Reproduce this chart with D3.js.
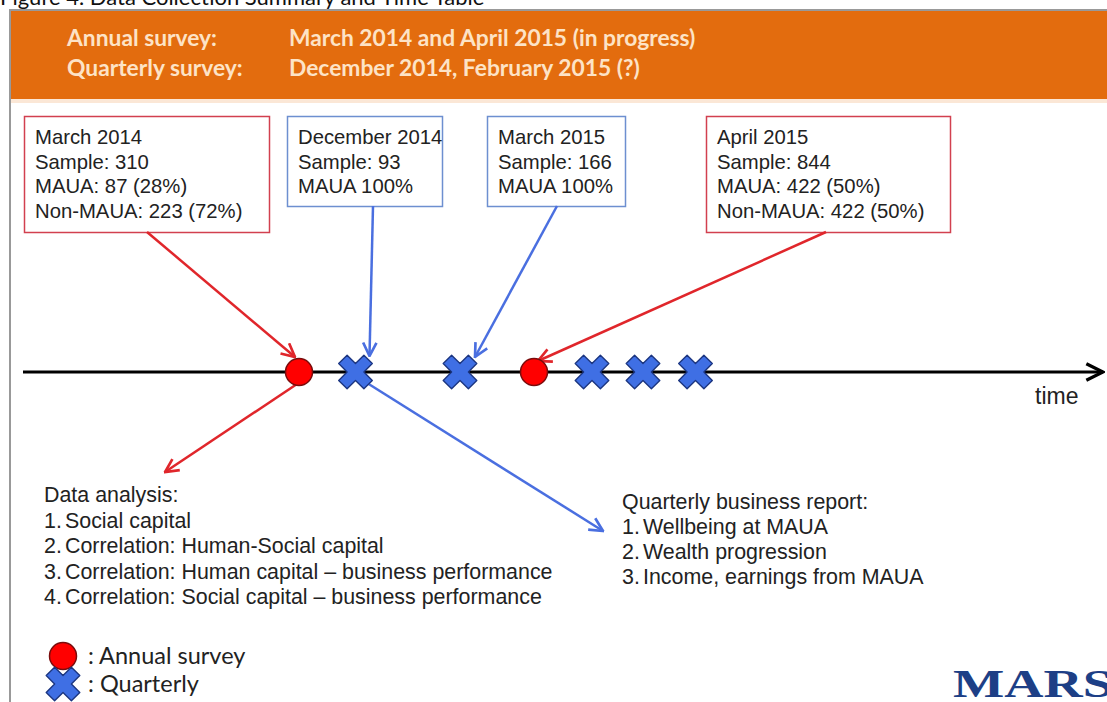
<!DOCTYPE html>
<html>
<head>
<meta charset="utf-8">
<script src="https://cdn.jsdelivr.net/npm/d3@7"></script>
<style>
  body { margin: 0; background: #fff; }
  svg { display: block; }
</style>
</head>
<body>
<div id="chart"></div>
<script>
// Header rows
const headerLabels = ["Annual survey:", "Quarterly survey:"];
const headerValues = ["March 2014 and April 2015 (in progress)", "December 2014, February 2015 (?)"];

// Survey rounds along the time line (position in arbitrary time units)
const surveyTypes = ["annual", "quarterly", "quarterly", "annual", "quarterly", "quarterly", "quarterly"];
const surveyPos = [5.52, 6.65, 8.74, 10.22, 11.38, 12.4, 13.45];

// Callout boxes: which round they point to and their text
const boxTarget = [0, 1, 2, 3];
const boxType = ["annual", "quarterly", "quarterly", "annual"];
const boxLines = [
  ["March 2014", "Sample: 310", "MAUA: 87 (28%)", "Non-MAUA: 223 (72%)"],
  ["December 2014", "Sample: 93", "MAUA 100%"],
  ["March 2015", "Sample: 166", "MAUA 100%"],
  ["April 2015", "Sample: 844", "MAUA: 422 (50%)", "Non-MAUA: 422 (50%)"]
];

// Outputs below the time line
const analysisTitle = "Data analysis:";
const analysisItems = ["Social capital", "Correlation: Human-Social capital",
  "Correlation: Human capital \u2013 business performance",
  "Correlation: Social capital \u2013 business performance"];
const reportTitle = "Quarterly business report:";
const reportItems = ["Wellbeing at MAUA", "Wealth progression", "Income, earnings from MAUA"];

const legendLabels = [": Annual survey", ": Quarterly"];

const width = 1107, height = 702;
const red = "#e0262b", blue = "#4a6fe0";

const svg = d3.select("#chart").append("svg")
  .attr("width", width)
  .attr("height", height)
  .style("font-family", "'Liberation Sans', Arial, sans-serif");

const defs = svg.append("defs");
function arrowMarker(id, color, size) {
  defs.append("marker")
    .attr("id", id)
    .attr("viewBox", "0 0 12 12")
    .attr("refX", 11).attr("refY", 6)
    .attr("markerWidth", size).attr("markerHeight", size)
    .attr("markerUnits", "userSpaceOnUse")
    .attr("orient", "auto")
    .append("path")
    .attr("d", "M1,1 L11,6 L1,11")
    .attr("fill", "none")
    .attr("stroke", color)
    .attr("stroke-width", 2);
}
arrowMarker("arrRed", red, 16);
arrowMarker("arrBlue", blue, 16);
arrowMarker("arrBlack", "#000", 20);

// clipped figure caption at the very top
svg.append("text")
  .attr("x", 0).attr("y", 5)
  .style("font-family", "Lato, 'Open Sans', sans-serif")
  .style("font-size", "22px")
  .attr("fill", "#111")
  .text("Figure 4. Data Collection Summary and Time Table");

// slide frame
svg.append("rect")
  .attr("x", 10).attr("y", 10)
  .attr("width", width).attr("height", height)
  .attr("fill", "#fff")
  .attr("stroke", "#999").attr("stroke-width", 2);

// orange header band
svg.append("rect")
  .attr("x", 11).attr("y", 11)
  .attr("width", width - 11).attr("height", 88)
  .attr("fill", "#e36c0e");
svg.append("rect")
  .attr("x", 11).attr("y", 99)
  .attr("width", width - 11).attr("height", 4)
  .attr("fill", "#fbe7d6");

const header = svg.append("g")
  .style("font-family", "Lato, 'Open Sans', sans-serif")
  .style("font-weight", "bold")
  .style("font-size", "22.8px")
  .attr("fill", "#fde3c6");
header.selectAll(".hl").data(headerLabels).join("text")
  .attr("x", 67).attr("y", (d, i) => 46 + i * 30)
  .text(d => d);
header.selectAll(".hv").data(headerValues).join("text")
  .attr("x", 289).attr("y", (d, i) => 46 + i * 30)
  .text(d => d);

// time scale
const x = d3.scaleLinear().domain([0, 21.6]).range([23, 1103]);
const lineY = 372;

// callout boxes (layout)
const boxGeom = [
  { x: 24, y: 116, w: 245, h: 116, ax: 147 },
  { x: 287, y: 116, w: 155, h: 90, ax: 373 },
  { x: 487, y: 116, w: 138, h: 90, ax: 557 },
  { x: 706, y: 116, w: 244, h: 116, ax: 826 }
];
const tipOffset = [[-4, -15], [14, -16], [15, -15], [4, -11]];

const boxes = svg.append("g").selectAll("g").data(boxLines).join("g");
boxes.append("rect")
  .attr("x", (d, i) => boxGeom[i].x + 0.5)
  .attr("y", (d, i) => boxGeom[i].y + 0.5)
  .attr("width", (d, i) => boxGeom[i].w)
  .attr("height", (d, i) => boxGeom[i].h)
  .attr("fill", "#fff")
  .attr("stroke", (d, i) => boxType[i] === "annual" ? "#d2404f" : "#6d8fd0")
  .attr("stroke-width", 1.5);
boxes.each(function(lines, i) {
  d3.select(this).selectAll("text").data(lines).join("text")
    .attr("x", boxGeom[i].x + 11)
    .attr("y", (d, j) => boxGeom[i].y + 28 + j * 24.5)
    .style("font-size", "20.3px")
    .attr("fill", "#222")
    .text(d => d);
});

// arrows from boxes to the survey rounds
svg.append("g").selectAll("line").data(boxTarget).join("line")
  .attr("x1", (d, i) => boxGeom[i].ax)
  .attr("y1", (d, i) => boxGeom[i].y + boxGeom[i].h)
  .attr("x2", (d, i) => x(surveyPos[d]) + tipOffset[i][0])
  .attr("y2", (d, i) => lineY + tipOffset[i][1])
  .attr("stroke", (d, i) => boxType[i] === "annual" ? red : blue)
  .attr("stroke-width", 2.5)
  .attr("marker-end", (d, i) => boxType[i] === "annual" ? "url(#arrRed)" : "url(#arrBlue)");

// arrows from the first rounds down to the outputs
svg.append("line")
  .attr("x1", x(surveyPos[0]) - 2).attr("y1", lineY + 12)
  .attr("x2", 165).attr("y2", 472)
  .attr("stroke", red).attr("stroke-width", 2.5)
  .attr("marker-end", "url(#arrRed)");
svg.append("line")
  .attr("x1", x(surveyPos[1]) + 10).attr("y1", lineY + 10)
  .attr("x2", 603).attr("y2", 531)
  .attr("stroke", blue).attr("stroke-width", 2.5)
  .attr("marker-end", "url(#arrBlue)");

// time line
svg.append("line")
  .attr("x1", x(0)).attr("y1", lineY)
  .attr("x2", x(21.6)).attr("y2", lineY)
  .attr("stroke", "#000").attr("stroke-width", 3)
  .attr("marker-end", "url(#arrBlack)");
svg.append("text")
  .attr("x", 1035).attr("y", 404)
  .style("font-size", "23px")
  .attr("fill", "#222")
  .text("time");

// markers
const crossPath = d3.symbol(d3.symbolCross, 640)();
function drawMarker(sel, type) {
  if (type === "annual") {
    sel.append("circle").attr("r", 13.5)
      .attr("fill", "#ff0000").attr("stroke", "#7a0c0c").attr("stroke-width", 1.5);
  } else {
    sel.append("path").attr("d", crossPath)
      .attr("transform", "rotate(45) scale(1.05,1.05)")
      .attr("fill", "#3f6fe4").attr("stroke", "#1b3580").attr("stroke-width", 1.3)
      .attr("stroke-linejoin", "round");
  }
}
svg.append("g").selectAll("g").data(surveyTypes).join("g")
  .attr("transform", (d, i) => `translate(${x(surveyPos[i])},${lineY})`)
  .each(function(d) { drawMarker(d3.select(this), d); });

// output texts
function listBlock(x0, y0, title, items, step) {
  const g = svg.append("g").style("font-size", "21.4px").attr("fill", "#222");
  g.append("text").attr("x", x0).attr("y", y0).text(title);
  items.forEach((t, i) => {
    g.append("text").attr("x", x0).attr("y", y0 + (i + 1) * step).text((i + 1) + ".");
    g.append("text").attr("x", x0 + 21).attr("y", y0 + (i + 1) * step).text(t);
  });
}
listBlock(44, 502, analysisTitle, analysisItems, 25.6);
listBlock(622, 509, reportTitle, reportItems, 25);

// legend
const legend = svg.append("g")
  .style("font-family", "Lato, 'Open Sans', sans-serif")
  .style("font-size", "23.5px")
  .attr("fill", "#222");
legendLabels.forEach((t, i) => {
  const g = legend.append("g").attr("transform", `translate(63,${656 + i * 28})`);
  drawMarker(g, i === 0 ? "annual" : "quarterly");
  legend.append("text").attr("x", 88).attr("y", 664 + i * 28).text(t);
});

// logo
svg.append("text")
  .attr("x", 953).attr("y", 697)
  .attr("textLength", 160).attr("lengthAdjust", "spacingAndGlyphs")
  .style("font-family", "'Liberation Serif', 'DejaVu Serif', serif")
  .style("font-weight", "bold")
  .style("font-size", "40px")
  .attr("fill", "#1d3f86")
  .text("MARS");
</script>
</body>
</html>
